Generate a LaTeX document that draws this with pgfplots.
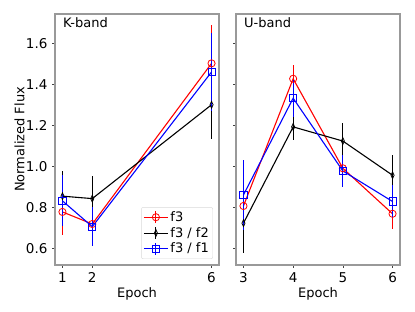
\documentclass[border=0pt]{standalone}
\usepackage{fontspec}
\setmainfont{DejaVu Sans}
\usepackage{pgfplots}
\pgfplotsset{compat=1.18}
\begin{document}
\fontsize{13pt}{15pt}\selectfont
\begin{tikzpicture}
\path[use as bounding box] (0pt,0pt) rectangle (415pt,312pt);
\pgfplotsset{
  every axis/.append style={
    scale only axis, width=164pt, height=251pt,
    ymin=0.52, ymax=1.745,
    axis line style={black!40, line width=1.1pt},
    tick align=outside, major tick length=3pt,
    tick style={black!75, line width=0.7pt},
    xtick pos=bottom, ytick pos=left,
    ytick={0.6,0.8,1.0,1.2,1.4,1.6},
    /pgf/number format/assume math mode=true,
    tick label style={font=\fontsize{13.5pt}{15pt}\selectfont},
    label style={font=\fontsize{13pt}{15pt}\selectfont},
    xlabel={Epoch},
    xlabel style={at={(rel axis cs:0.5,0)}, anchor=base, yshift=-33pt},
    legend image code/.code={
      \draw[#1,mark=none] (0pt,0pt) -- (24pt,0pt);
      \draw[#1,mark=none] (12pt,-6pt) -- (12pt,6pt);
      \draw[#1] plot coordinates {(12pt,0pt)};
    },
  },
  rr/.style={red, line width=1.1pt, mark=o, mark size=3.6pt, mark options={line width=0.8pt, fill=none},
    error bars/.cd, y dir=both, y explicit, error mark=none, error bar style={line width=1.1pt, red}},
  kk/.style={black, line width=1.1pt, mark=diamond, mark size=3.4pt, mark options={line width=0.8pt, fill=none, xscale=0.6},
    error bars/.cd, y dir=both, y explicit, error mark=none, error bar style={line width=1.1pt, black}},
  bb/.style={blue, line width=1.1pt, mark=square, mark size=3.6pt, mark options={line width=0.8pt, fill=none},
    error bars/.cd, y dir=both, y explicit, error mark=none, error bar style={line width=1.1pt, blue}},
}
% left panel
\begin{axis}[at={(55pt,47pt)}, anchor=south west,
  xmin=0.75, xmax=6.25, xtick={1,2,6},
  yticklabels={0.6,0.8,1.0,1.2,1.4,1.6},
  ylabel={Normalized Flux},
  ylabel style={at={(rel axis cs:0,0.5)}, anchor=center, yshift=35.5pt},
  legend style={at={(1,0)}, anchor=south east, xshift=-6pt, yshift=6pt,
    draw=black!15, rounded corners=2pt, inner sep=2pt, row sep=0pt,
    font=\fontsize{13pt}{15pt}\selectfont},
  legend cell align=left,
]
\addplot+[rr] coordinates {(1,0.779) +- (0,0.112) (2,0.720) +- (0,0.04) (6,1.504) +- (0,0.186)};
\addlegendentry{f3}
\addplot+[kk] coordinates {(1,0.856) +- (0,0.125) (2,0.844) +- (0,0.112) (6,1.302) +- (0,0.168)};
\addlegendentry{f3 / f2}
\addplot+[bb] coordinates {(1,0.833) +- (0,0.125) (2,0.707) +- (0,0.094) (6,1.462) +- (0,0.19)};
\addlegendentry{f3 / f1}
\node[anchor=north west, inner sep=0pt, font=\fontsize{13pt}{15pt}\selectfont] at (rel axis cs:0,1) [xshift=8pt, yshift=-3pt] {K-band};
\end{axis}
% right panel
\begin{axis}[at={(236pt,47pt)}, anchor=south west,
  xmin=2.85, xmax=6.15, xtick={3,4,5,6},
  yticklabels={},
]
\addplot+[rr] coordinates {(3,0.808) +- (0,0.07) (4,1.429) +- (0,0.067) (5,0.992) +- (0,0.05) (6,0.770) +- (0,0.075)};
\addplot+[kk] coordinates {(3,0.724) +- (0,0.147) (4,1.194) +- (0,0.062) (5,1.125) +- (0,0.087) (6,0.958) +- (0,0.10)};
\addplot+[bb] coordinates {(3,0.862) +- (0,0.172) (4,1.334) +- (0,0.09) (5,0.979) +- (0,0.08) (6,0.830) +- (0,0.08)};
\node[anchor=north west, inner sep=0pt, font=\fontsize{13pt}{15pt}\selectfont] at (rel axis cs:0,1) [xshift=8pt, yshift=-3pt] {U-band};
\end{axis}
\end{tikzpicture}
\end{document}
